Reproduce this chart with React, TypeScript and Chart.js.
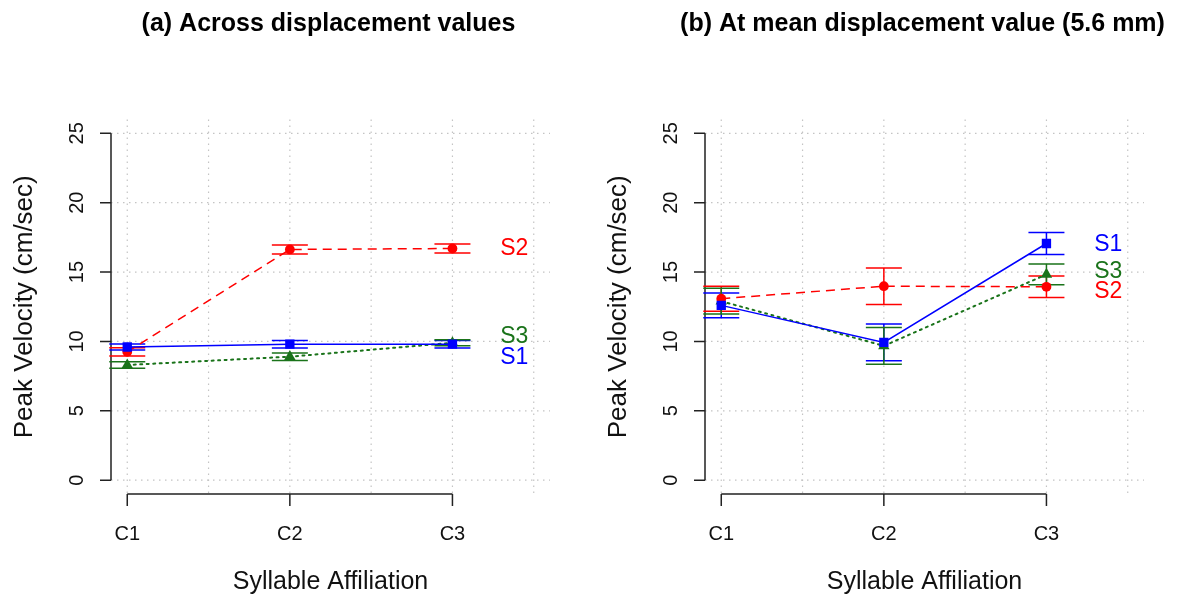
import React, { useEffect, useRef } from 'react';
import { Chart, registerables } from 'chart.js';
Chart.register(...registerables);

// ---- data ----
const categories = ['C1', 'C2', 'C3'];
const categoryX = [1, 2, 3];
const yTicks = [0, 5, 10, 15, 20, 25];
const gridX = [1, 1.5, 2, 2.5, 3, 3.5];
const seriesNames = ['S1', 'S2', 'S3'];

// Panel (a): across displacement values
const aS1 = [9.6, 9.8, 9.8];
const aS1Err = [0.22, 0.27, 0.27];
const aS2 = [9.25, 16.63, 16.7];
const aS2Err = [0.3, 0.33, 0.33];
const aS3 = [8.3, 8.9, 9.9];
const aS3Err = [0.24, 0.27, 0.22];
const aLabelY = [9.0, 16.8, 10.45];

// Panel (b): at mean displacement value
const bS1 = [12.6, 9.93, 17.06];
const bS1Err = [0.9, 1.32, 0.8];
const bS2 = [13.08, 13.98, 13.94];
const bS2Err = [0.9, 1.32, 0.77];
const bS3 = [12.9, 9.68, 14.83];
const bS3Err = [0.93, 1.32, 0.75];
const bLabelY = [17.1, 13.75, 15.14];

const labelX = 3.38;

const titleA = '(a) Across displacement values';
const titleB = '(b) At mean displacement value (5.6 mm)';
const xTitle = 'Syllable Affiliation';
const yTitle = 'Peak Velocity (cm/sec)';

const COLORS = ['#0000FF', '#FF0000', '#1a731a'];
const POINT_STYLES = ['rect', 'circle', 'triangle'];
const POINT_RADII = [6.6, 4.9, 6.6];
const DASHES = [[], [9, 6], [2, 4.5]];
const FONT = '"Liberation Sans", Arial, Helvetica, sans-serif';

type PanelCfg = {
  title: string;
  values: number[][];
  errors: number[][];
  labelY: number[];
  padLeft: number;
  padRight: number;
  width: number;
  left: number;
};

const panels: PanelCfg[] = [
  { title: titleA, values: [aS1, aS2, aS3], errors: [aS1Err, aS2Err, aS3Err], labelY: aLabelY, padLeft: 111, padRight: 40, width: 590, left: 0 },
  { title: titleB, values: [bS1, bS2, bS3], errors: [bS1Err, bS2Err, bS3Err], labelY: bLabelY, padLeft: 115, padRight: 37, width: 591, left: 590 },
];

function makePlugin(cfg: PanelCfg) {
  return {
    id: 'rstyle',
    beforeDatasetsDraw(chart: any) {
      const { ctx, chartArea: a, scales } = chart;
      const x = scales.x;
      const y = scales.y;
      ctx.save();
      // grid
      ctx.strokeStyle = '#c4c4c4';
      ctx.lineWidth = 1.2;
      ctx.setLineDash([1.5, 4.5]);
      gridX.forEach((v) => {
        const px = x.getPixelForValue(v);
        ctx.beginPath();
        ctx.moveTo(px, a.top);
        ctx.lineTo(px, a.bottom);
        ctx.stroke();
      });
      yTicks.forEach((v) => {
        const py = y.getPixelForValue(v);
        ctx.beginPath();
        ctx.moveTo(a.left, py);
        ctx.lineTo(a.right, py);
        ctx.stroke();
      });
      ctx.setLineDash([]);

      // axes
      ctx.strokeStyle = '#222';
      ctx.lineWidth = 1.5;
      const y0 = y.getPixelForValue(yTicks[0]);
      const y1 = y.getPixelForValue(yTicks[yTicks.length - 1]);
      ctx.beginPath();
      ctx.moveTo(a.left, y0);
      ctx.lineTo(a.left, y1);
      yTicks.forEach((v) => {
        const py = y.getPixelForValue(v);
        ctx.moveTo(a.left, py);
        ctx.lineTo(a.left - 11, py);
      });
      const x0 = x.getPixelForValue(categoryX[0]);
      const x1 = x.getPixelForValue(categoryX[categoryX.length - 1]);
      ctx.moveTo(x0, a.bottom);
      ctx.lineTo(x1, a.bottom);
      categoryX.forEach((v) => {
        const px = x.getPixelForValue(v);
        ctx.moveTo(px, a.bottom);
        ctx.lineTo(px, a.bottom + 12);
      });
      ctx.stroke();

      // tick labels
      ctx.fillStyle = '#111';
      ctx.font = `20px ${FONT}`;
      ctx.textAlign = 'center';
      ctx.textBaseline = 'alphabetic';
      categoryX.forEach((v, i) => {
        ctx.fillText(categories[i], x.getPixelForValue(v), a.bottom + 46);
      });
      yTicks.forEach((v) => {
        const py = y.getPixelForValue(v);
        ctx.save();
        ctx.translate(a.left - 28, py);
        ctx.rotate(-Math.PI / 2);
        ctx.fillText(String(v), 0, 0);
        ctx.restore();
      });

      // axis titles
      const cx = (a.left + a.right) / 2;
      ctx.font = `25px ${FONT}`;
      ctx.fillText(xTitle, cx, a.bottom + 95);
      ctx.font = `26px ${FONT}`;
      ctx.save();
      ctx.translate(a.left - 79, (a.top + a.bottom) / 2);
      ctx.rotate(-Math.PI / 2);
      ctx.fillText(yTitle, 0, 0);
      ctx.restore();

      // title
      ctx.font = `bold 25px ${FONT}`;
      ctx.fillStyle = '#000';
      ctx.fillText(cfg.title, cx - 2, 31);

      // error bars
      ctx.lineWidth = 1.5;
      cfg.values.forEach((vals, si) => {
        ctx.strokeStyle = COLORS[si];
        vals.forEach((v, i) => {
          const e = cfg.errors[si][i];
          const px = x.getPixelForValue(categoryX[i]);
          const pTop = y.getPixelForValue(v + e);
          const pBot = y.getPixelForValue(v - e);
          ctx.beginPath();
          ctx.moveTo(px, pTop);
          ctx.lineTo(px, pBot);
          ctx.moveTo(px - 18, pTop);
          ctx.lineTo(px + 18, pTop);
          ctx.moveTo(px - 18, pBot);
          ctx.lineTo(px + 18, pBot);
          ctx.stroke();
        });
      });
      ctx.restore();
    },
    afterDatasetsDraw(chart: any) {
      const { ctx, scales } = chart;
      ctx.save();
      ctx.font = `23px ${FONT}`;
      ctx.textAlign = 'center';
      ctx.textBaseline = 'alphabetic';
      seriesNames.forEach((name, si) => {
        ctx.fillStyle = COLORS[si];
        const px = scales.x.getPixelForValue(labelX);
        const py = scales.y.getPixelForValue(cfg.labelY[si]);
        ctx.fillText(name, px, py + 8.3);
      });
      ctx.restore();
    },
  };
}

function Panel({ cfg }: { cfg: PanelCfg }) {
  const ref = useRef<HTMLCanvasElement>(null);
  useEffect(() => {
    if (!ref.current) return;
    const datasets = cfg.values.map((vals, si) => ({
      label: seriesNames[si],
      data: vals.map((v, i) => ({ x: categoryX[i], y: v })),
      showLine: true,
      borderColor: COLORS[si],
      backgroundColor: COLORS[si],
      borderWidth: si === 2 ? 2 : 1.5,
      borderDash: DASHES[si],
      borderCapStyle: si === 2 ? 'round' : 'butt',
      pointStyle: POINT_STYLES[si],
      pointRadius: POINT_RADII[si],
      pointBorderWidth: 0,
      pointBackgroundColor: COLORS[si],
      pointBorderColor: COLORS[si],
      tension: 0,
    }));
    const chart = new Chart(ref.current, {
      type: 'scatter',
      data: { datasets } as any,
      options: {
        animation: false,
        responsive: false,
        maintainAspectRatio: false,
        events: [],
        layout: { padding: { left: cfg.padLeft, right: cfg.padRight, top: 119.5, bottom: 104 } },
        plugins: { legend: { display: false }, tooltip: { enabled: false }, title: { display: false } },
        scales: {
          x: { type: 'linear', min: 0.9, max: 3.6, display: false },
          y: { type: 'linear', min: -1, max: 26, display: false },
        },
      } as any,
      plugins: [makePlugin(cfg)],
    });
    return () => chart.destroy();
  }, [cfg]);
  return (
    <canvas
      ref={ref}
      width={cfg.width}
      height={598}
      style={{ position: 'absolute', left: cfg.left, top: 0, width: cfg.width, height: 598 }}
    />
  );
}

export default function App() {
  return (
    <div style={{ position: 'absolute', left: 0, top: 0, width: 1181, height: 598, background: '#fff', overflow: 'hidden' }}>
      {panels.map((p, i) => (
        <Panel key={i} cfg={p} />
      ))}
    </div>
  );
}
